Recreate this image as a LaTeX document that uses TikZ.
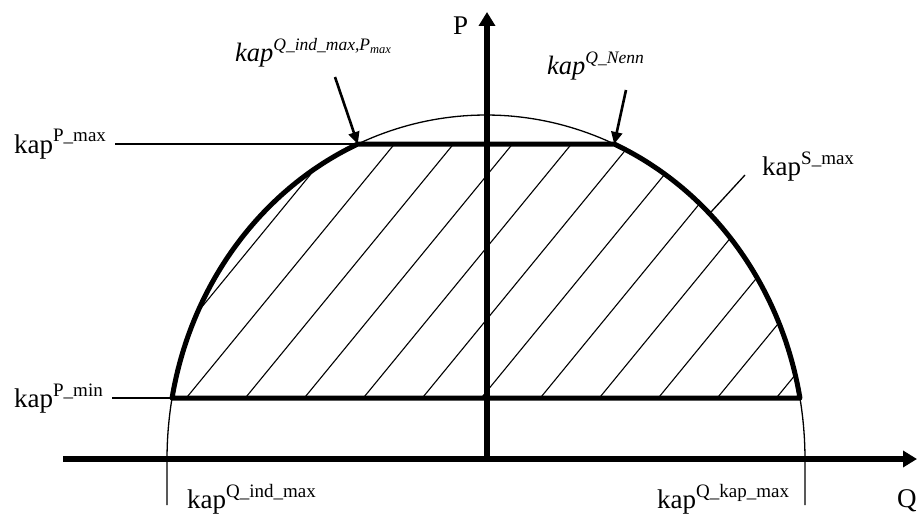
\documentclass[tikz,border=0pt]{standalone}
\usepackage{fontspec}
\setmainfont{Liberation Serif}
\usetikzlibrary{arrows.meta}
\newcommand{\kapsup}[1]{kap\raisebox{11pt}{\fontsize{19}{21}\selectfont #1}}
\newcommand{\ikapsup}[1]{\textit{kap}\raisebox{11pt}{\fontsize{17.5}{20}\selectfont\itshape #1}}
\begin{document}
\begin{tikzpicture}[x=1pt,y=-1pt,
  thinline/.style={line width=1.3pt},
  thickbound/.style={line width=5pt, line join=round},
  axisline/.style={line width=6pt, -{Triangle[length=14pt,width=16pt]}},
  lbl/.style={font=\fontsize{27}{30}\selectfont, inner sep=0pt, anchor=base west},
  ilbl/.style={font=\fontsize{26.5}{30}\selectfont\itshape, inner sep=0pt, anchor=base west},
  pointer/.style={line width=2.6pt, -{Triangle[length=12pt,width=11pt]}},
  hatchline/.style={line width=1.1pt}]
\useasboundingbox (0,0) rectangle (919,519);
% key points
\coordinate (PminL) at ({486+319*cos(169.79)},398);
\coordinate (PmaxL) at ({486+319*cos(113.7)},144);
\coordinate (PmaxR) at ({486+319*cos(66.3)},144);
\coordinate (SmaxP) at (711,212);
\coordinate (Qstart) at (63,459);
\coordinate (Qend) at (917,459);
\coordinate (Pstart) at (487,461);
\coordinate (Pend) at (487,12);
% hatching
\begin{scope}
  \clip plot[domain=169.79:113.7,samples=80] ({486+319*cos(\x)},{459-344*sin(\x)})
     -- plot[domain=66.3:10.21,samples=80] ({486+319*cos(\x)},{459-344*sin(\x)}) -- cycle;
  \foreach \k in {0,...,12}
    \draw[hatchline] ({124+59*\k},402) -- ++(250,-305);
\end{scope}
% thin ellipse
\draw[thinline] (167,505) -- plot[domain=180:0,samples=160] ({486+319*cos(\x)},{459-344*sin(\x)}) -- (805,505);
% thick boundary
\draw[thickbound] plot[domain=169.79:113.7,samples=80] ({486+319*cos(\x)},{459-344*sin(\x)})
   -- plot[domain=66.3:10.21,samples=80] ({486+319*cos(\x)},{459-344*sin(\x)}) -- cycle;
% axes
\draw[axisline] (Qstart) -- (Qend);
\draw[axisline] (Pstart) -- (Pend);
% labels
\node[lbl] (P) at (453,35) {P};
\node[lbl] (Q) at (897,507) {Q};
\node[lbl] (pmax) at (14,153) {\kapsup{P\_max}};
\node[lbl] (pmin) at (14,407) {\kapsup{P\_min}};
\node[lbl] (smax) at (762,175) {\kapsup{S\_max}};
\node[lbl] (qind) at (187,508) {\kapsup{Q\_ind\_max}};
\node[lbl] (qkap) at (657,508) {\kapsup{Q\_kap\_max}};
\node[ilbl] (qindp) at (235,62) {\ikapsup{Q\_ind\_max,P\raisebox{-3pt}{\fontsize{12.5}{14}\selectfont max}}};
\node[ilbl] (qnenn) at (547,75) {\ikapsup{Q\_Nenn}};
% label lines
\draw[thinline] ([xshift=9pt]pmax.east |- PmaxL) -- (PmaxL);
\draw[thinline] ([xshift=9pt]pmin.east |- PminL) -- (PminL);
\draw[thinline] ([xshift=-17pt]smax.base west) -- (SmaxP);
\coordinate (qindpA) at (335,77);
\coordinate (qnennA) at (626,90);
\draw[pointer] (qindpA) -- (PmaxL);
\draw[pointer] (qnennA) -- (PmaxR);
\end{tikzpicture}
\end{document}
